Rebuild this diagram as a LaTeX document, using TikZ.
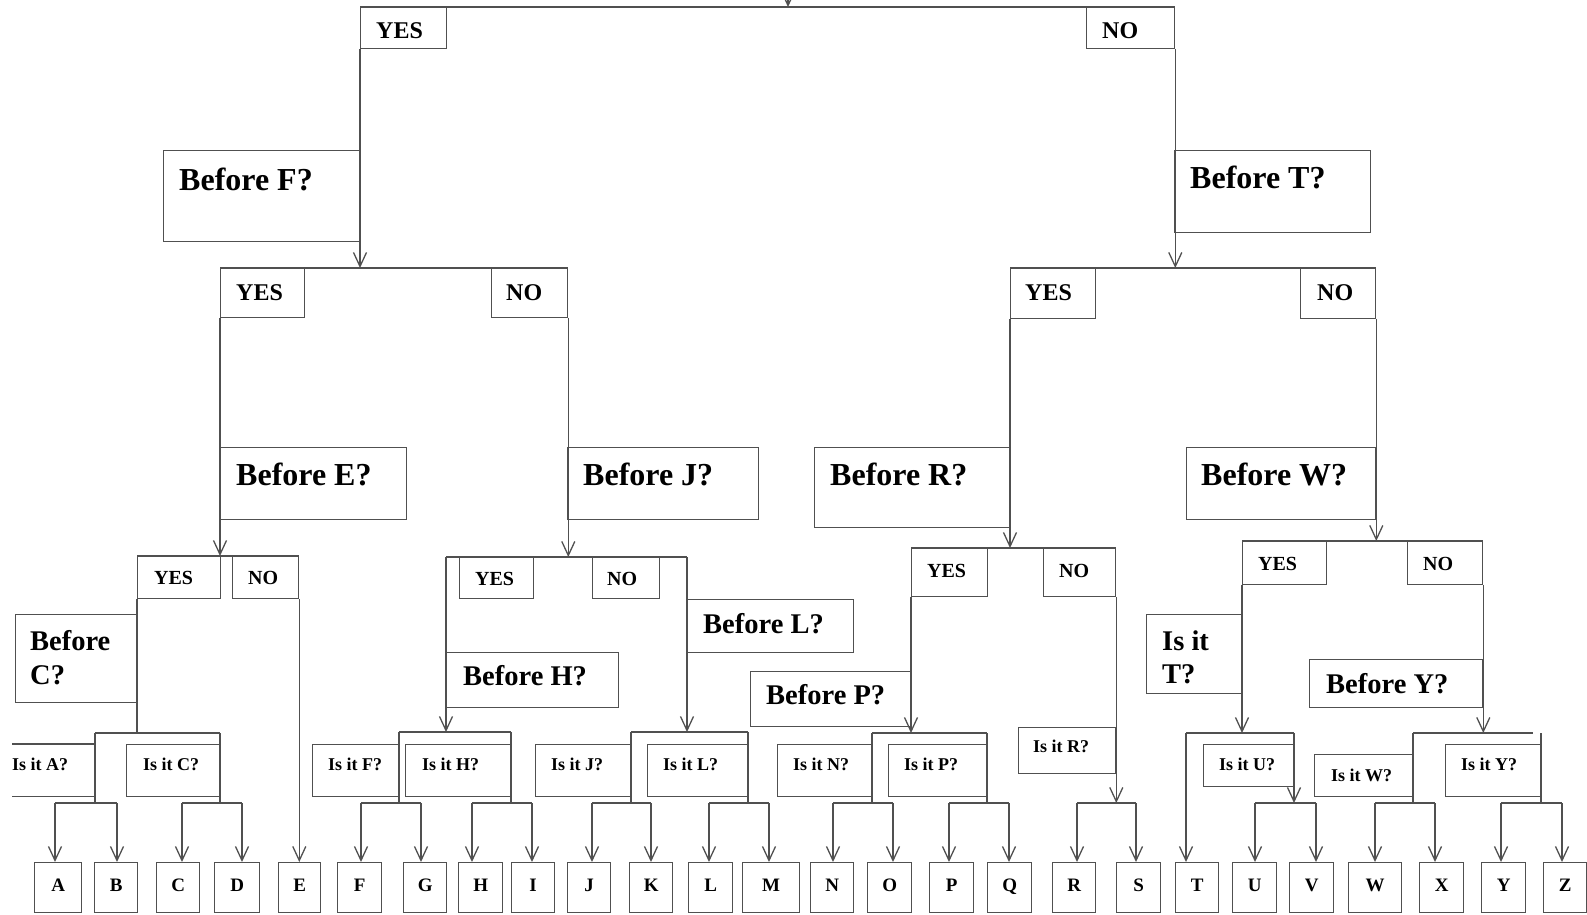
\documentclass[tikz,border=0pt]{standalone}
\usepackage{fontspec}
\setmainfont{Liberation Serif}
\usetikzlibrary{arrows.meta}
\definecolor{lc}{RGB}{80,80,80}
\tikzset{
 ln/.style={draw=lc,line width=1.3pt},
 arr/.style={ln,-{Straight Barb[length=14pt,width=13pt]}},
 bxs/.style={draw=lc,line width=1.3pt,inner sep=0pt,rectangle},
 tbig/.style={font=\fontsize{32}{38}\selectfont\bfseries,inner sep=0pt},
 tmid/.style={font=\fontsize{28.5}{34}\selectfont\bfseries,inner sep=0pt},
 tyn/.style={font=\fontsize{24}{28}\selectfont\bfseries,inner sep=0pt},
 tyns/.style={font=\fontsize{20}{24}\selectfont\bfseries,inner sep=0pt},
 tis/.style={font=\fontsize{18}{22}\selectfont\bfseries,inner sep=0pt},
 tlet/.style={font=\fontsize{19}{22}\selectfont\bfseries,text height=13pt,text depth=6pt},
}
\newcommand\mkbox[5]{\node[bxs,anchor=north west,minimum width={#4-#2},minimum height={#5-#3}] (#1) at (#2,#3) {};}
\newcommand\tx[4]{\node[#1,anchor=base west] (#2) at (#3) {#4};}
\newcommand\mklet[3]{\node[bxs,tlet,anchor=north west,minimum width={#3-#2},minimum height=50] (#1) at (#2,862) {#1};}
\newcommand\fork[6]{%
 \coordinate (fv) at (#1,#2);
 \coordinate (fa) at (#3,803);
 \coordinate (fb) at (#4,803);
 \draw[ln] (fv) -- (fv |- fa);
 \draw[ln] (fa) -- (fb);
 \draw[arr] (fa) -- (fa |- #5.north);
 \draw[arr] (fb) -- (fb |- #6.north);}
\begin{document}
\begin{tikzpicture}[x=1pt,y=-1pt]
\useasboundingbox (0,0) rectangle (1587,915);
% ---------- boxes ----------
\mkbox{Y0}{360}{7}{446}{48}
\mkbox{N0}{1086}{7}{1174}{48}
\mkbox{BF}{163}{150}{360}{241}
\mkbox{BT}{1174}{150}{1370}{232}
\mkbox{Y1}{220}{268}{304}{317}
\mkbox{N1}{491}{268}{567}{317}
\mkbox{BE}{220}{447}{406}{519}
\mkbox{BJ}{567}{447}{758}{519}
\mkbox{Y2}{1010}{268}{1095}{318}
\mkbox{N2}{1300}{268}{1375}{318}
\mkbox{BR}{814}{447}{1010}{527}
\mkbox{BW}{1186}{447}{1375}{519}
\mkbox{Y3}{137}{556}{220}{598}
\mkbox{N3}{232}{556}{298}{598}
\mkbox{BC}{15}{614}{137}{702}
\node[inner sep=0pt,anchor=north west,minimum width=83,minimum height=52] (IA) at (12,744) {};
\draw[ln] (IA.north west) -- (IA.north east) -- (IA.south east) -- (IA.south west);
\mkbox{IC}{126}{744}{220}{796}
\mkbox{Y4}{459}{557}{533}{598}
\mkbox{N4}{592}{557}{659}{598}
\mkbox{BH}{446}{652}{618}{707}
\mkbox{BL}{687}{599}{853}{652}
\mkbox{IF}{312}{744}{399}{796}
\mkbox{IH}{405}{744}{511}{796}
\mkbox{IJ}{535}{744}{631}{796}
\mkbox{IL}{647}{744}{748}{796}
\mkbox{Y5}{911}{548}{987}{596}
\mkbox{N5}{1043}{548}{1115}{596}
\mkbox{BP}{750}{671}{911}{726}
\mkbox{IN}{777}{744}{872}{796}
\mkbox{IP}{888}{744}{987}{796}
\mkbox{IR}{1018}{727}{1115}{773}
\mkbox{Y6}{1242}{541}{1326}{584}
\mkbox{N6}{1407}{541}{1482}{584}
\mkbox{IT}{1146}{614}{1242}{693}
\mkbox{BY}{1309}{659}{1482}{707}
\mkbox{IU}{1203}{744}{1294}{786}
\mkbox{IW}{1314}{754}{1413}{796}
\mkbox{IY}{1445}{744}{1540}{796}
% ---------- texts ----------
\tx{tyn}{tY0}{376,39}{YES}
\tx{tyn}{tN0}{1102,39}{NO}
\tx{tbig}{tBF}{179,190}{Before F?}
\tx{tbig}{tBT}{1190,188}{Before T?}
\tx{tyn}{tY1}{236,300}{YES}
\tx{tyn}{tN1}{506,300}{NO}
\tx{tbig}{tBE}{236,485}{Before E?}
\tx{tbig}{tBJ}{583,485}{Before J?}
\tx{tyn}{tY2}{1025,300}{YES}
\tx{tyn}{tN2}{1317,300}{NO}
\tx{tbig}{tBR}{830,485}{Before R?}
\tx{tbig}{tBW}{1201,485}{Before W?}
\tx{tyns}{tY3}{154,584}{YES}
\tx{tyns}{tN3}{248,584}{NO}
\tx{tmid}{tBCa}{30,650}{Before}
\tx{tmid}{tBCb}{30,684}{C?}
\tx{tis}{tIA}{12,770}{Is it A?}
\tx{tis}{tIC}{143,770}{Is it C?}
\tx{tyns}{tY4}{475,585}{YES}
\tx{tyns}{tN4}{607,585}{NO}
\tx{tmid}{tBH}{463,685}{Before H?}
\tx{tmid}{tBL}{703,633}{Before L?}
\tx{tis}{tIF}{328,770}{Is it F?}
\tx{tis}{tIH}{422,770}{Is it H?}
\tx{tis}{tIJ}{551,770}{Is it J?}
\tx{tis}{tIL}{663,770}{Is it L?}
\tx{tyns}{tY5}{927,577}{YES}
\tx{tyns}{tN5}{1059,577}{NO}
\tx{tmid}{tBP}{766,704}{Before P?}
\tx{tis}{tIN}{793,770}{Is it N?}
\tx{tis}{tIP}{904,770}{Is it P?}
\tx{tis}{tIR}{1033,752}{Is it R?}
\tx{tyns}{tY6}{1258,570}{YES}
\tx{tyns}{tN6}{1423,570}{NO}
\tx{tmid}{tITa}{1162,650}{Is it}
\tx{tmid}{tITb}{1162,683}{T?}
\tx{tmid}{tBY}{1326,693}{Before Y?}
\tx{tis}{tIU}{1219,770}{Is it U?}
\tx{tis}{tIW}{1331,781}{Is it W?}
\tx{tis}{tIY}{1461,770}{Is it Y?}
% ---------- letters ----------
\mklet{A}{34}{81}\mklet{B}{94}{137}\mklet{C}{156}{199}\mklet{D}{214}{259}
\mklet{E}{278}{320}\mklet{F}{337}{381}\mklet{G}{403}{446}\mklet{H}{458}{502}
\mklet{I}{511}{554}\mklet{J}{567}{610}\mklet{K}{629}{672}\mklet{L}{688}{732}
\mklet{M}{742}{799}\mklet{N}{810}{853}\mklet{O}{867}{911}\mklet{P}{929}{973}
\mklet{Q}{987}{1031}\mklet{R}{1052}{1095}\mklet{S}{1116}{1160}\mklet{T}{1175}{1218}
\mklet{U}{1232}{1276}\mklet{V}{1289}{1333}\mklet{W}{1348}{1401}\mklet{X}{1419}{1463}
\mklet{Y}{1481}{1525}\mklet{Z}{1543}{1586}
% ---------- connectors: top ----------
\coordinate (top) at (788,-30);
\coordinate (topin) at (788,7);
\draw[arr] (top) -- (topin);
\draw[ln] (Y0.north west) -- (N0.north east);
\draw[arr] (Y0.south west) -- (Y0.south west |- Y1.north);
\draw[arr] (N0.south east) -- (N0.south east |- Y2.north);
\draw[ln] (Y1.north west) -- (N1.north east);
\draw[ln] (Y2.north west) -- (N2.north east);
\draw[arr] (Y1.south west) -- (Y1.south west |- Y3.north);
\draw[arr] (N1.south east) -- (N1.south east |- Y4.north);
\draw[arr] (Y2.south west) -- (Y2.south west |- Y5.north);
\draw[arr] (N2.south east) -- (N2.south east |- Y6.north);
% ---------- group E ----------
\draw[ln] (Y3.north west) -- (N3.north east);
\coordinate (e1) at (95,733);
\coordinate (e2) at (220,733);
\draw[ln] (Y3.south west) -- (Y3.south west |- e1);
\draw[ln] (e1) -- (e2);
\fork{95}{733}{55}{117}{A}{B}
\fork{220}{733}{182}{242}{C}{D}
\draw[arr] (N3.south east) -- (N3.south east |- E.north);
% ---------- group J ----------
\coordinate (j1) at (446,557);
\coordinate (j2) at (687,557);
\draw[ln] (j1) -- (j2);
\coordinate (f1) at (399,732);
\coordinate (f2) at (511,732);
\coordinate (k1) at (631,732);
\coordinate (k2) at (748,732);
\draw[arr] (j1) -- (j1 |- f1);
\draw[arr] (j2) -- (j2 |- k1);
\draw[ln] (f1) -- (f2);
\draw[ln] (k1) -- (k2);
\fork{399}{732}{361}{421}{F}{G}
\fork{511}{732}{472}{532}{H}{I}
\fork{631}{732}{592}{651}{J}{K}
\fork{748}{732}{709}{769}{L}{M}
% ---------- group R ----------
\draw[ln] (Y5.north west) -- (N5.north east);
\coordinate (n1) at (872,733);
\coordinate (n2) at (987,733);
\draw[arr] (Y5.south west) -- (Y5.south west |- n1);
\draw[ln] (n1) -- (n2);
\fork{872}{733}{833}{893}{N}{O}
\fork{987}{733}{949}{1009}{P}{Q}
\coordinate (r1) at (1077,803);
\coordinate (r2) at (1136,803);
\draw[arr] (N5.south east) -- (N5.south east |- r1);
\draw[ln] (r1) -- (r2);
\draw[arr] (r1) -- (r1 |- R.north);
\draw[arr] (r2) -- (r2 |- S.north);
% ---------- group W ----------
\draw[ln] (Y6.north west) -- (N6.north east);
\coordinate (t1) at (1186,733);
\coordinate (t2) at (1294,733);
\draw[arr] (Y6.south west) -- (Y6.south west |- t1);
\draw[ln] (t1) -- (t2);
\draw[arr] (t1) -- (t1 |- T.north);
\coordinate (u1) at (1255,803);
\coordinate (u2) at (1316,803);
\draw[arr] (t2) -- (t2 |- u1);
\draw[ln] (u1) -- (u2);
\draw[arr] (u1) -- (u1 |- U.north);
\draw[arr] (u2) -- (u2 |- V.north);
\coordinate (w1) at (1413,733);
\coordinate (w2) at (1533,733);
\draw[arr] (N6.south east) -- (N6.south east |- w1);
\draw[ln] (w1) -- (w2);
\fork{1413}{733}{1375}{1435}{W}{X}
\fork{1541}{733}{1501}{1562}{Y}{Z}
\end{tikzpicture}
\end{document}
